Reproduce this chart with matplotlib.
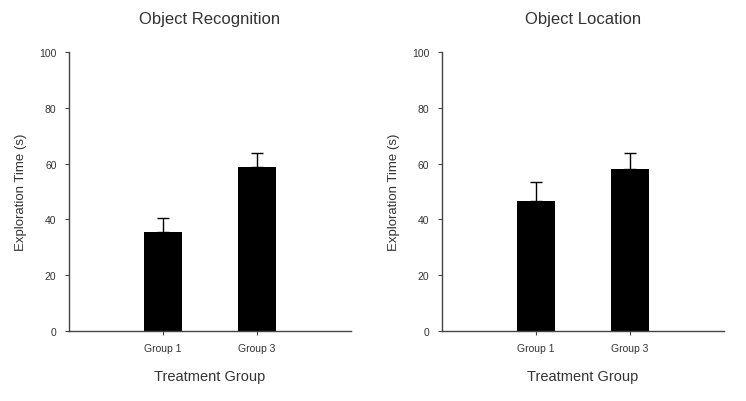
import matplotlib
matplotlib.use("Agg")
import matplotlib.pyplot as plt

plt.rcParams["font.family"] = ["Liberation Sans", "DejaVu Sans"]

groups = ["Group 1", "Group 3"]
titles = ["Object Recognition", "Object Location"]
recognition_means = [35.4, 58.7]
recognition_err = [5.1, 5.0]
location_means = [46.7, 58.1]
location_err = [6.8, 5.7]
yticks = [0, 20, 40, 60, 80, 100]

fig = plt.figure(figsize=(7.46, 4.02), dpi=100)
txt = "#333333"
panels = [(recognition_means, recognition_err), (location_means, location_err)]
lefts = [69 / 746, 442 / 746]
for i, (means, errs) in enumerate(panels):
    ax = fig.add_axes([lefts[i], 1 - 332 / 402, 282 / 746, 279 / 402])
    pos = [1, 2]
    ax.bar(pos, means, width=0.4, color="black", zorder=2)
    ax.errorbar(pos, means, yerr=[[0, 0], errs], fmt="none", ecolor="black",
                elinewidth=1, capsize=4, capthick=1, zorder=1)
    ax.set_xlim(0, 3)
    ax.set_ylim(0, 100)
    ax.set_yticks(yticks)
    ax.set_xticks(pos)
    ax.set_xticklabels(groups)
    for s in ["top", "right"]:
        ax.spines[s].set_visible(False)
    for s in ["left", "bottom"]:
        ax.spines[s].set_color("#444444")
        ax.spines[s].set_linewidth(1)
    ax.tick_params(axis="both", direction="out", length=3, width=0.8,
                   colors="#444444", labelsize=7.5, labelcolor=txt, pad=6)
    ax.set_title(titles[i], fontsize=12, color=txt, pad=21)
    ax.set_ylabel("Exploration Time (s)", fontsize=9.5, color=txt, labelpad=9)
    ax.set_xlabel("Treatment Group", fontsize=10.5, color=txt, labelpad=11)

fig.savefig("out.png", dpi=100)
